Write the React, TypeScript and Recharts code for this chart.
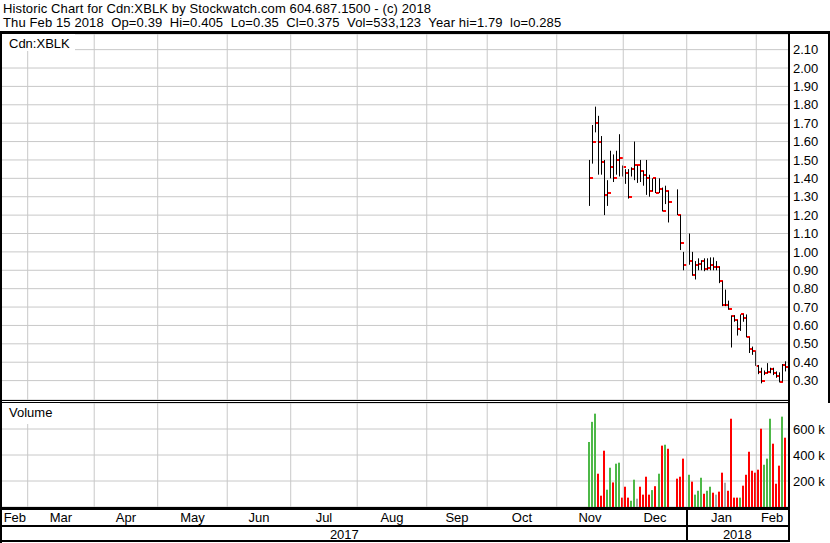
import React from 'react';
import { ComposedChart, Bar, XAxis, YAxis, CartesianGrid, ReferenceLine } from 'recharts';

const FONT = '"Liberation Sans", Arial, Helvetica, sans-serif';
const GRID = '#c8c8c8';
const UP = '#4db848';
const DOWN = '#ff0000';
const FLAT = '#a8a8a8';

// sessions that traded (Dec 25, Dec 26 and Jan 1 were closed)
const sessions = [
  '2017-11-16', '2017-11-17', '2017-11-20', '2017-11-21', '2017-11-22', '2017-11-23', '2017-11-24',
  '2017-11-27', '2017-11-28', '2017-11-29', '2017-11-30', '2017-12-01', '2017-12-04', '2017-12-05',
  '2017-12-06', '2017-12-07', '2017-12-08', '2017-12-11', '2017-12-12', '2017-12-13', '2017-12-14',
  '2017-12-15', '2017-12-18', '2017-12-19', '2017-12-20', '2017-12-21', '2017-12-22', '2017-12-27',
  '2017-12-28', '2017-12-29', '2018-01-02', '2018-01-03', '2018-01-04', '2018-01-05', '2018-01-08',
  '2018-01-09', '2018-01-10', '2018-01-11', '2018-01-12', '2018-01-15', '2018-01-16', '2018-01-17',
  '2018-01-18', '2018-01-19', '2018-01-22', '2018-01-23', '2018-01-24', '2018-01-25', '2018-01-26',
  '2018-01-29', '2018-01-30', '2018-01-31', '2018-02-01', '2018-02-02', '2018-02-05', '2018-02-06',
  '2018-02-07', '2018-02-08', '2018-02-09', '2018-02-12', '2018-02-13', '2018-02-14', '2018-02-15',
];

const highs = [
  1.5, 1.69, 1.79, 1.74, 1.63, 1.5, 1.39, 1.55, 1.53, 1.55, 1.64, 1.47, 1.45, 1.45,
  1.46, 1.6, 1.47, 1.5, 1.44, 1.5, 1.42, 1.4, 1.4, 1.4, 1.35, 1.36, 1.33, 1.34,
  1.2, 1.0, 1.1, 1.0, 0.95, 0.965, 0.955, 0.965, 0.965, 0.97, 0.97, 0.95, 0.92, 0.84,
  0.795, 0.735, 0.655, 0.655, 0.63, 0.66, 0.66, 0.66, 0.535, 0.485, 0.46, 0.385, 0.37, 0.355,
  0.395, 0.37, 0.37, 0.35, 0.345, 0.39, 0.405,
];

const lows = [
  1.25, 1.48, 1.65, 1.42, 1.42, 1.2, 1.25, 1.4, 1.38, 1.42, 1.41, 1.41, 1.37, 1.29,
  1.41, 1.39, 1.375, 1.38, 1.36, 1.31, 1.3, 1.33, 1.32, 1.32, 1.22, 1.26, 1.16, 1.2,
  1.01, 0.9, 0.93, 0.87, 0.85, 0.9, 0.9, 0.895, 0.9, 0.9, 0.9, 0.9, 0.83, 0.705,
  0.705, 0.685, 0.48, 0.62, 0.545, 0.57, 0.62, 0.535, 0.45, 0.44, 0.38, 0.335, 0.285, 0.33,
  0.34, 0.34, 0.33, 0.315, 0.29, 0.295, 0.35,
];

const closes = [
  1.4, 1.6, 1.7, 1.6, 1.49, 1.31, 1.32, 1.46, 1.4, 1.5, 1.51, 1.46, 1.43, 1.3,
  1.45, 1.47, 1.47, 1.44, 1.42, 1.4, 1.33, 1.4, 1.32, 1.34, 1.22, 1.33, 1.27, 1.2,
  1.05, 0.93, 0.95, 0.875, 0.93, 0.935, 0.95, 0.905, 0.91, 0.93, 0.92, 0.92, 0.84, 0.71,
  0.71, 0.69, 0.65, 0.63, 0.58, 0.66, 0.64, 0.535, 0.47, 0.46, 0.38, 0.345, 0.3, 0.34,
  0.345, 0.365, 0.34, 0.325, 0.295, 0.385, 0.375,
];

const volumes = [
  500000, 655000, 718000, 256000, 87000, 433000, 133000, 302000, 189000, 333000, 341000, 72000, 156000, 72000,
  48000, 210000, 64000, 156000, 95000, 233000, 95000, 130000, 160000, 256000, 472000, 479000, 448000, 218000,
  233000, 372000, 248000, 195000, 95000, 125000, 225000, 102000, 125000, 156000, 110000, 95000, 118000, 264000,
  187000, 125000, 679000, 72000, 72000, 72000, 164000, 248000, 425000, 279000, 264000, 287000, 602000, 325000,
  372000, 679000, 487000, 179000, 318000, 695000, 533123,
];

const lastOpen = 0.39;

const priceTicks = [
  0.3, 0.4, 0.5, 0.6, 0.7, 0.8, 0.9, 1.0, 1.1, 1.2, 1.3, 1.4, 1.5, 1.6, 1.7, 1.8, 1.9, 2.0, 2.1,
];
const volumeTicks = [200000, 400000, 600000];
const monthNames = ['Jan', 'Feb', 'Mar', 'Apr', 'May', 'Jun', 'Jul', 'Aug', 'Sep', 'Oct', 'Nov', 'Dec'];
const dayNames = ['Sun', 'Mon', 'Tue', 'Wed', 'Thu', 'Fri', 'Sat'];

// the time axis holds every weekday of the year shown
const FIRST_DAY = '2017-02-17';
const LAST_DAY = '2018-02-15';

const CHART_W = 830;
const PLOT_LEFT = 2;
const AXIS_W = 42;
const PLOT_W = CHART_W - PLOT_LEFT - AXIS_W;

function weekdays(from: string, to: string): string[] {
  const out: string[] = [];
  const d = new Date(from + 'T00:00:00Z');
  const end = new Date(to + 'T00:00:00Z').getTime();
  while (d.getTime() <= end) {
    const wd = d.getUTCDay();
    if (wd !== 0 && wd !== 6) out.push(d.toISOString().slice(0, 10));
    d.setUTCDate(d.getUTCDate() + 1);
  }
  return out;
}

const days = weekdays(FIRST_DAY, LAST_DAY);
const BAND = PLOT_W / days.length;

const rows = days.map((date) => {
  const k = sessions.indexOf(date);
  if (k < 0) return { date, range: null, high: null, low: null, close: null, volume: null, color: FLAT };
  const prev = k > 0 ? closes[k - 1] : -Infinity;
  const color = closes[k] > prev ? UP : closes[k] < prev ? DOWN : FLAT;
  return {
    date,
    range: [lows[k], highs[k]],
    high: highs[k],
    low: lows[k],
    close: closes[k],
    volume: volumes[k],
    color,
  };
});

// month lines sit on the 1st, or on the Friday before when the 1st is a weekend
const monthStarts: number[] = [0];
const monthLines: number[] = [];
const yearLines: number[] = [];
for (let i = 1; i < days.length; i++) {
  if (days[i].slice(5, 7) !== days[i - 1].slice(5, 7)) {
    const line = days[i] === days[i].slice(0, 8) + '01' ? i : i - 1;
    monthStarts.push(i);
    monthLines.push(line);
    if (days[i].slice(0, 4) !== days[i - 1].slice(0, 4)) yearLines.push(line);
  }
}

type Seg = { text: string; from: number; to: number };

function centered(segs: Seg[]) {
  const map = new Map<string, { text: string; dx: number }>();
  segs.forEach((s) => {
    const c = (s.from + s.to) / 2;
    const t = Math.min(days.length - 1, Math.max(0, Math.floor(c)));
    map.set(days[t], { text: s.text, dx: (c - t - 0.5) * BAND });
  });
  return map;
}

const monthBounds = [0, ...monthLines.map((g) => g + 0.5), days.length];
const monthLabels = centered(
  monthStarts.map((s, k) => ({
    text: monthNames[Number(days[s].slice(5, 7)) - 1],
    from: monthBounds[k],
    to: monthBounds[k + 1],
  }))
);

const yearBounds = [0, ...yearLines.map((g) => g + 0.5), days.length];
const yearStarts = [0, ...yearLines];
const yearLabels = centered(
  yearStarts.map((s, k) => ({
    text: days[Math.min(days.length - 1, s + 1)].slice(0, 4),
    from: yearBounds[k],
    to: yearBounds[k + 1],
  }))
);

const makeTick = (labels: Map<string, { text: string; dx: number }>) => (props: any) => {
  const { x, y, payload } = props;
  const item = labels.get(payload.value);
  if (!item) return <g />;
  return (
    <text x={x + item.dx} y={y} dy="0.71em" textAnchor="middle" fontSize={13} fontFamily={FONT} fill="#000">
      {item.text}
    </text>
  );
};

const MonthTick = makeTick(monthLabels);
const YearTick = makeTick(yearLabels);

// high-low stick with the close marked in red on the right
const HiLoClose = (props: any) => {
  const { x, y, width, height, payload } = props;
  if (!payload || payload.close == null) return <g />;
  const cx = Math.round(x + width / 2) - 0.5;
  const span = payload.high - payload.low;
  const cy = span > 0 ? y + ((payload.high - payload.close) / span) * height : y;
  return (
    <g>
      <line x1={cx} x2={cx} y1={y} y2={y + Math.max(height, 1)} stroke="#000" strokeWidth={1} />
      <rect x={cx + 0.5} y={Math.round(cy) - 1} width={3} height={2} fill={DOWN} />
    </g>
  );
};

const VolumeBar = (props: any) => {
  const { x, y, width, height, payload } = props;
  if (!payload || payload.volume == null || !(height > 0)) return <g />;
  return <rect x={Math.round(x + width / 2) - 2} y={y} width={2} height={height} fill={payload.color} />;
};

const last = sessions.length - 1;
const [ly, lm, ld] = LAST_DAY.split('-').map(Number);
const lastDate = new Date(Date.UTC(ly, lm - 1, ld));
const headerDate = `${dayNames[lastDate.getUTCDay()]} ${monthNames[lm - 1]} ${ld} ${ly}`;
const headerQuote =
  `${headerDate}  Op=${lastOpen}  Hi=${highs[last]}  Lo=${lows[last]}  Cl=${closes[last]}  ` +
  `Vol=${volumes[last].toLocaleString('en-US')}  Year hi=${Math.max(...highs)}  lo=${Math.min(...lows)}`;

const box = (left: number, top: number, width: number, height: number, bg = '#000'): React.CSSProperties => ({
  position: 'absolute',
  left,
  top,
  width,
  height,
  background: bg,
});

const tickStyle = { fontSize: 13, fill: '#000', fontFamily: FONT };

export default function App() {
  return (
    <div
      style={{
        position: 'absolute',
        left: 0,
        top: 0,
        width: 830,
        height: 543,
        background: '#fff',
        overflow: 'hidden',
        fontFamily: FONT,
      }}
    >
      <div
        style={{
          position: 'absolute',
          left: 3,
          top: 2,
          fontSize: 13,
          lineHeight: '14px',
          letterSpacing: '0.12px',
          whiteSpace: 'pre',
          color: '#000',
        }}
      >
        <div>Historic Chart for Cdn:XBLK by Stockwatch.com 604.687.1500 - (c) 2018</div>
        <div>{headerQuote}</div>
      </div>

      <div style={{ position: 'absolute', left: 0, top: 34 }}>
        <ComposedChart
          width={CHART_W}
          height={366}
          data={rows}
          margin={{ top: 0, right: 0, bottom: 0, left: PLOT_LEFT }}
          barCategoryGap={0}
        >
          <CartesianGrid vertical={false} stroke={GRID} />
          <XAxis dataKey="date" hide />
          <YAxis
            orientation="right"
            width={AXIS_W}
            domain={[0.1945, 2.185]}
            allowDataOverflow
            ticks={priceTicks}
            interval={0}
            tickFormatter={(v: number) => v.toFixed(2)}
            axisLine={false}
            tickLine={false}
            tickSize={0}
            tickMargin={5}
            tick={tickStyle}
          />
          {monthLines.map((i) => (
            <ReferenceLine key={i} x={days[i]} stroke={GRID} />
          ))}
          <Bar dataKey="range" shape={HiLoClose} isAnimationActive={false} />
        </ComposedChart>
      </div>

      <div style={{ position: 'absolute', left: 0, top: 403 }}>
        <ComposedChart
          width={CHART_W}
          height={139}
          data={rows}
          margin={{ top: 0, right: 0, bottom: 0, left: PLOT_LEFT }}
          barCategoryGap={0}
        >
          <CartesianGrid vertical={false} stroke={GRID} />
          <XAxis
            dataKey="date"
            ticks={Array.from(monthLabels.keys())}
            interval={0}
            height={19}
            axisLine={false}
            tickLine={false}
            tickSize={0}
            tickMargin={6}
            tick={MonthTick}
          />
          <XAxis
            xAxisId="year"
            dataKey="date"
            ticks={Array.from(yearLabels.keys())}
            interval={0}
            height={16}
            axisLine={false}
            tickLine={false}
            tickSize={0}
            tickMargin={4}
            tick={YearTick}
          />
          <YAxis
            orientation="right"
            width={AXIS_W}
            domain={[0, 800000]}
            allowDataOverflow
            ticks={volumeTicks}
            interval={0}
            tickFormatter={(v: number) => `${v / 1000} k`}
            axisLine={false}
            tickLine={false}
            tickSize={0}
            tickMargin={5}
            tick={tickStyle}
          />
          {monthLines.map((i) => (
            <ReferenceLine key={i} x={days[i]} stroke={GRID} />
          ))}
          <Bar dataKey="volume" shape={VolumeBar} isAnimationActive={false} />
        </ComposedChart>
      </div>

      {/* panel labels */}
      <div style={{ ...box(2, 34, 73, 17, '#fff'), fontSize: 13, lineHeight: '13px', padding: '3px 0 0 7px', boxSizing: 'border-box' }}>
        Cdn:XBLK
      </div>
      <div style={{ ...box(2, 403, 58, 21, '#fff'), fontSize: 13, lineHeight: '13px', padding: '3px 0 0 7px', boxSizing: 'border-box' }}>
        Volume
      </div>

      {/* frame */}
      <div style={box(0, 31, 830, 3)} />
      <div style={box(0, 31, 2, 512)} />
      <div style={box(788, 31, 2, 511)} />
      <div style={box(828, 31, 2, 372)} />
      <div style={box(0, 400, 790, 1)} />
      <div style={box(0, 402, 790, 1)} />
      <div style={box(0, 507, 790, 3)} />
      <div style={box(0, 525, 790, 2)} />
      <div style={box(0, 540, 790, 2)} />
      <div style={box(686, 507, 2, 35)} />
    </div>
  );
}
